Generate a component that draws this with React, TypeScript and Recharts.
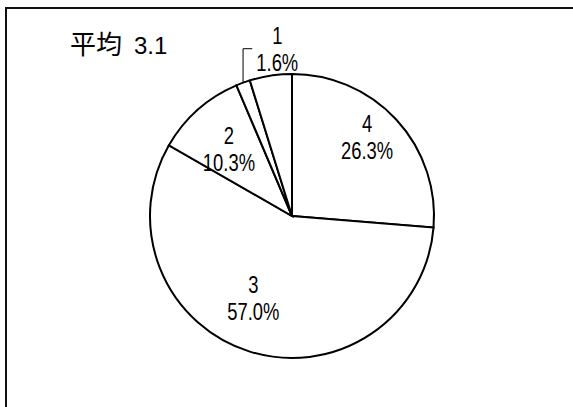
import { PieChart, Pie, Cell } from 'recharts'

const CATEGORIES = ['4', '3', '2', '1', '無回答']
const PERCENTS = [26.3, 57.0, 10.3, 1.6, 4.8]
const SHOW_LABEL = [true, true, true, true, false]
const TITLE = '平均'
const MEAN = '3.1'

const RAD = Math.PI / 180
// small hand nudges from the default label spot, px
const LABEL_NUDGE = [
  [4, -14],
  [-10, -10],
  [1, 5],
  [43, -10],
  [0, 0],
]

const data = CATEGORIES.map((name, i) => ({ name, value: PERCENTS[i] }))

// no narrow face installed, so squeeze Liberation Sans instead
const LABEL_FONT = "'Liberation Sans', Arial, sans-serif"
const SQUEEZE = 0.8

function renderLabel(props: any) {
  const { cx, cy, midAngle, outerRadius } = props
  const index = props.index ?? CATEGORIES.indexOf(props.name)
  if (!SHOW_LABEL[index]) return null
  const outside = PERCENTS[index] < 3
  const ratio = outside ? 1.18 : 0.68
  const [nx, ny] = LABEL_NUDGE[index]
  const x = cx + outerRadius * ratio * Math.cos(-midAngle * RAD) + nx
  const y = cy + outerRadius * ratio * Math.sin(-midAngle * RAD) + ny
  const ex = cx + outerRadius * Math.cos(-midAngle * RAD)
  const ey = cy + outerRadius * Math.sin(-midAngle * RAD)
  return (
    <g key={`lbl-${index}`}>
      {outside && (
        <path d={`M${ex},${ey} L${ex},${y} L${x - 25},${y}`} stroke="#000" strokeWidth={1} fill="none" />
      )}
      <text
        transform={`translate(${x},${y}) scale(${SQUEEZE},1)`}
        textAnchor="middle"
        fontFamily={LABEL_FONT}
        fontSize={23}
        fill="#000"
      >
        <tspan x={0} y={-5}>{CATEGORIES[index]}</tspan>
        <tspan x={0} y={22}>{PERCENTS[index].toFixed(1)}%</tspan>
      </text>
    </g>
  )
}

export default function App() {
  return (
    <>
      <div
        style={{
          position: 'fixed',
          left: 5,
          top: 7,
          width: 700,
          height: 500,
          border: '2px solid #111',
          background: '#fff',
        }}
      />
      <div style={{ position: 'fixed', left: 0, top: 0, width: 573, height: 407 }}>
        <PieChart width={573} height={407} margin={{ top: 0, right: 0, bottom: 0, left: 0 }}>
          <Pie
            data={data}
            dataKey="value"
            nameKey="name"
            cx={292}
            cy={216}
            outerRadius={142}
            startAngle={90}
            endAngle={-270}
            stroke="#000"
            strokeWidth={2}
            labelLine={false}
            label={renderLabel}
            isAnimationActive={false}
          >
            {data.map((d) => (
              <Cell key={d.name} fill="#fff" />
            ))}
          </Pie>
        </PieChart>
      </div>
      <div
        style={{
          position: 'fixed',
          left: 70,
          top: 30,
          lineHeight: '26px',
          color: '#000',
          whiteSpace: 'nowrap',
        }}
      >
        <span style={{ fontFamily: "'Noto Sans CJK JP', sans-serif", fontSize: 26 }}>{TITLE}</span>
        <span style={{ fontFamily: "'Liberation Sans', Arial, sans-serif", fontSize: 24, marginLeft: 12 }}>{MEAN}</span>
      </div>
    </>
  )
}
